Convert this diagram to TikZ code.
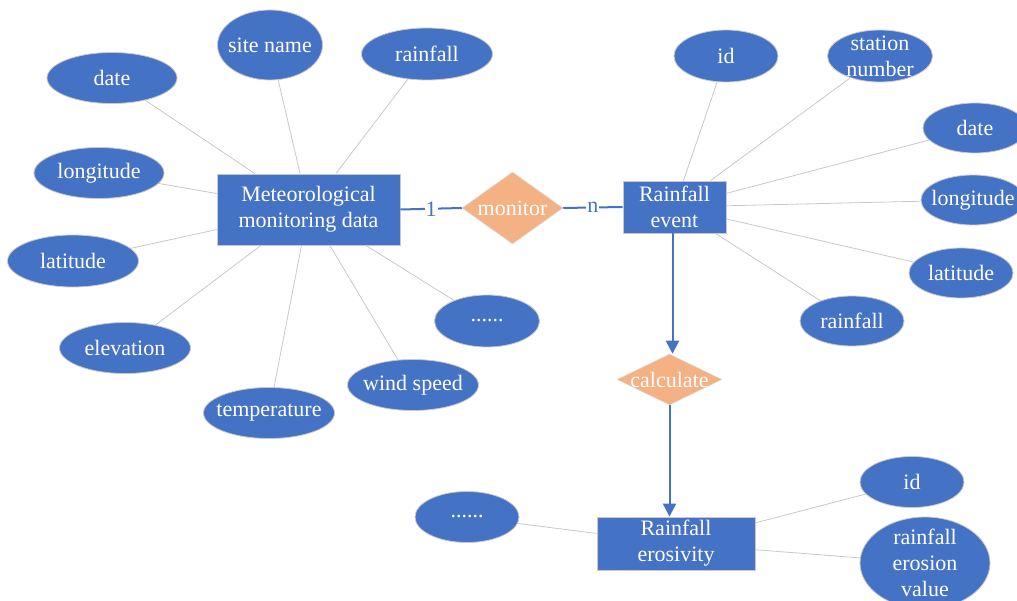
\documentclass[tikz,border=0pt]{standalone}
\usepackage{fontspec}
\setmainfont{Liberation Serif}
\newfontfamily\erserif{Liberation Serif}
\usepackage{tikz}
\usetikzlibrary{positioning,arrows.meta,shapes.geometric}
\definecolor{erblue}{HTML}{4472C4}
\definecolor{erorange}{HTML}{F4B183}
\definecolor{ergray}{HTML}{C8C8C8}
\newcommand{\erfont}{\erserif\fontsize{22}{26}\selectfont}

\begin{document}
\begin{tikzpicture}[x=1pt, y=-1pt,
  entity/.style={draw=ergray, fill=erblue, text=white, line width=0.8pt,
                 align=center, inner sep=2pt, font=\erfont},
  attr/.style={ellipse, draw=ergray, fill=erblue, line width=0.8pt, inner sep=0pt},
  attrtext/.style={text=white, font=\erfont, align=center, inner sep=0pt},
  rel/.style={diamond, draw=ergray!60, fill=erorange, line width=0.5pt, inner sep=0pt},
  link/.style={ergray, line width=0.8pt},
  conn/.style={erblue, line width=2pt},
  arr/.style={-{Triangle[length=13pt, width=13pt]}, erblue, line width=2pt},
  card/.style={fill=white, text=erblue, font=\erfont, inner sep=1pt}
]
  \useasboundingbox (0,0) rectangle (1017,601);
  \clip (0,0) rectangle (1017,601);

  % entities
  \node[entity, minimum width=183, minimum height=71] (meteo) at (308.5,209.5)
    {Meteorological\\monitoring data};
  \node[entity, minimum width=103, minimum height=52] (event) at (674.5,207)
    {Rainfall\\event};
  \node[entity, minimum width=158, minimum height=53] (eros) at (676,543.5)
    {Rainfall\\erosivity};

  % relations
  \node[rel, minimum width=101, minimum height=72,
        label={[attrtext]center:monitor}] (monitor) at (512.5,208) {};
  \node[rel, minimum width=105, minimum height=51,
        label={[attrtext]center:calculate}] (calc) at (669.5,379.5) {};

  % attributes of meteorological monitoring data
  \node[attr, minimum width=130, minimum height=51,
        label={[attrtext]center:date}] (mdate) at (112,78) {};
  \node[attr, minimum width=105, minimum height=70,
        label={[attrtext]center:site name}] (msite) at (270,45) {};
  \node[attr, minimum width=131, minimum height=52,
        label={[attrtext]center:rainfall}] (mrain) at (427,54) {};
  \node[attr, minimum width=130, minimum height=51,
        label={[attrtext]center:longitude}] (mlon) at (99,173) {};
  \node[attr, minimum width=131, minimum height=52,
        label={[attrtext]center:latitude}] (mlat) at (73,261) {};
  \node[attr, minimum width=131, minimum height=51,
        label={[attrtext]center:elevation}] (melev) at (125,348) {};
  \node[attr, minimum width=131, minimum height=51,
        label={[attrtext]center:temperature}] (mtemp) at (269,413) {};
  \node[attr, minimum width=131, minimum height=51,
        label={[attrtext]center:wind speed}] (mwind) at (413,385) {};
  \node[attr, minimum width=105, minimum height=52,
        label={[attrtext]center:......}] (mmore) at (487,321) {};

  \foreach \a in {mdate,msite,mrain,mlon,mlat,melev,mtemp,mwind,mmore}
    \draw[link] (\a) -- (meteo);

  % attributes of rainfall event
  \node[attr, minimum width=104, minimum height=52,
        label={[attrtext]center:id}] (eid) at (726,56) {};
  \node[attr, minimum width=105, minimum height=52,
        label={[attrtext]center:{station\\number}}] (estation) at (880,56) {};
  \node[attr, minimum width=104, minimum height=50,
        label={[attrtext]center:date}] (edate) at (975,128) {};
  \node[attr, minimum width=104, minimum height=50,
        label={[attrtext]center:longitude}] (elon) at (973,200) {};
  \node[attr, minimum width=104, minimum height=50,
        label={[attrtext]center:latitude}] (elat) at (961,273) {};
  \node[attr, minimum width=104, minimum height=50,
        label={[attrtext]center:rainfall}] (erain) at (852,321) {};

  \foreach \a in {eid,estation,edate,elon,elat,erain}
    \draw[link] (\a) -- (event);

  % attributes of rainfall erosivity
  \node[attr, minimum width=104, minimum height=51,
        label={[attrtext]center:......}] (rmore) at (467,517) {};
  \node[attr, minimum width=104, minimum height=51,
        label={[attrtext]center:id}] (rid) at (912,482) {};
  \node[attr, minimum width=130, minimum height=92,
        label={[attrtext]center:{rainfall\\erosion\\value}}] (rvalue) at (925,563) {};

  \foreach \a in {rmore,rid,rvalue}
    \draw[link] (\a) -- (eros);

  % relationship connectors
  \draw[conn] (meteo.east) -- node[card] {1} (monitor.west);
  \draw[conn] (monitor.east) -- node[card] {n} (event.west);
  \draw[arr] ([xshift=-2pt]event.south) -- ([xshift=-2pt]event.south |- calc.north);
  \draw[arr] (calc.south) -- (calc.south |- eros.north);
\end{tikzpicture}
\end{document}
